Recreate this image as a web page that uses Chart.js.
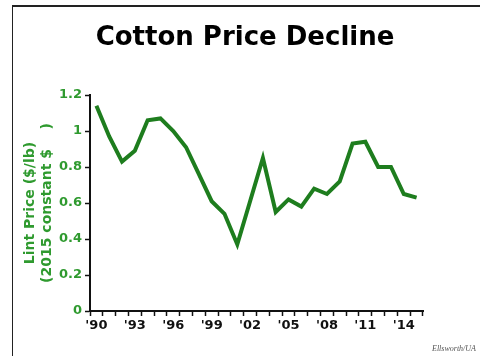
<!DOCTYPE html>
<html>
<head>
<meta charset="utf-8">
<script src="https://cdn.jsdelivr.net/npm/chart.js@4"></script>
<style>
  html, body { margin: 0; padding: 0; background: #fff; }
  #wrap { width: 480px; height: 356px; position: relative; }
</style>
</head>
<body>
<div id="wrap"><canvas id="cotton" width="480" height="356"></canvas></div>
<script>
// lint price, 2015 constant dollars per pound
const years = [1990, 1991, 1992, 1993, 1994, 1995, 1996, 1997, 1998, 1999, 2000, 2001, 2002,
               2003, 2004, 2005, 2006, 2007, 2008, 2009, 2010, 2011, 2012, 2013, 2014, 2015];
const prices = [1.14, 0.97, 0.83, 0.89, 1.06, 1.07, 1.0, 0.91, 0.76, 0.61, 0.54, 0.37, 0.61,
                0.85, 0.55, 0.62, 0.58, 0.68, 0.65, 0.72, 0.93, 0.94, 0.80, 0.80, 0.65, 0.63];
const labeledYears = [1990, 1993, 1996, 1999, 2002, 2005, 2008, 2011, 2014];
const titleText = 'Cotton Price Decline';
const yTitle = ['Lint Price ($/lb)', '(2015 constant $    )'];
const credit = 'Ellsworth/UA';

const GREEN = '#1e7d1e';
const LABEL_GREEN = '#2f9a2f';
const FONT = '"DejaVu Sans", Verdana, sans-serif';

// frame, heading and credit line drawn straight onto the canvas
const decorations = {
    id: 'decorations',
    beforeDraw(chart) {
        const ctx = chart.ctx;
        ctx.save();
        ctx.fillStyle = '#fff';
        ctx.fillRect(0, 0, chart.width, chart.height);
        ctx.strokeStyle = '#222';
        ctx.lineWidth = 2;
        ctx.beginPath();
        ctx.moveTo(12, 6);
        ctx.lineTo(480, 6);
        ctx.stroke();
        ctx.lineWidth = 1;
        ctx.beginPath();
        ctx.moveTo(12.5, 6);
        ctx.lineTo(12.5, 356);
        ctx.stroke();
        ctx.restore();
    },
    afterDraw(chart) {
        const ctx = chart.ctx;
        ctx.save();
        ctx.fillStyle = '#000';
        ctx.font = 'bold 26px ' + FONT;
        ctx.textAlign = 'center';
        ctx.textBaseline = 'middle';
        ctx.fillText(titleText, 245, 38);
        ctx.fillStyle = '#555';
        ctx.font = 'italic 8px "Liberation Serif", serif';
        ctx.textAlign = 'right';
        ctx.fillText(credit, 476, 349);
        ctx.restore();
    }
};

new Chart(document.getElementById('cotton'), {
    type: 'line',
    data: {
        labels: years,
        datasets: [{
            data: prices,
            borderColor: GREEN,
            borderWidth: 4,
            pointRadius: 0,
            tension: 0,
            fill: false
        }]
    },
    options: {
        responsive: false,
        animation: false,
        layout: { padding: { top: 95, right: 57, bottom: 0, left: 0 } },
        plugins: {
            legend: { display: false },
            tooltip: { enabled: false }
        },
        scales: {
            x: {
                type: 'category',
                offset: true,
                afterFit(scale) { scale.height = 45; },
                border: { color: '#111', width: 2 },
                grid: {
                    offset: true,
                    drawOnChartArea: false,
                    drawTicks: true,
                    tickLength: 5,
                    tickWidth: 1.5,
                    tickColor: '#111'
                },
                ticks: {
                    autoSkip: false,
                    maxRotation: 0,
                    padding: 2,
                    color: '#111',
                    font: { family: FONT, size: 13, weight: 'bold' },
                    callback(value) {
                        const y = years[value];
                        return labeledYears.includes(y) ? "'" + String(y).slice(2) : '';
                    }
                }
            },
            y: {
                min: 0,
                max: 1.2,
                afterFit(scale) { scale.width = 90; },
                border: { color: '#111', width: 2 },
                grid: {
                    drawOnChartArea: false,
                    drawTicks: true,
                    tickLength: 5,
                    tickWidth: 1.5,
                    tickColor: '#111'
                },
                ticks: {
                    stepSize: 0.2,
                    padding: 3,
                    color: LABEL_GREEN,
                    font: { family: FONT, size: 13, weight: 'bold' },
                    callback(value) {
                        return String(Math.round(value * 10) / 10);
                    }
                },
                title: {
                    display: true,
                    text: yTitle,
                    color: LABEL_GREEN,
                    padding: { top: 22, bottom: 0 },
                    font: { family: FONT, size: 14, weight: 'bold', lineHeight: 1.2 }
                }
            }
        }
    },
    plugins: [decorations]
});
</script>
</body>
</html>
